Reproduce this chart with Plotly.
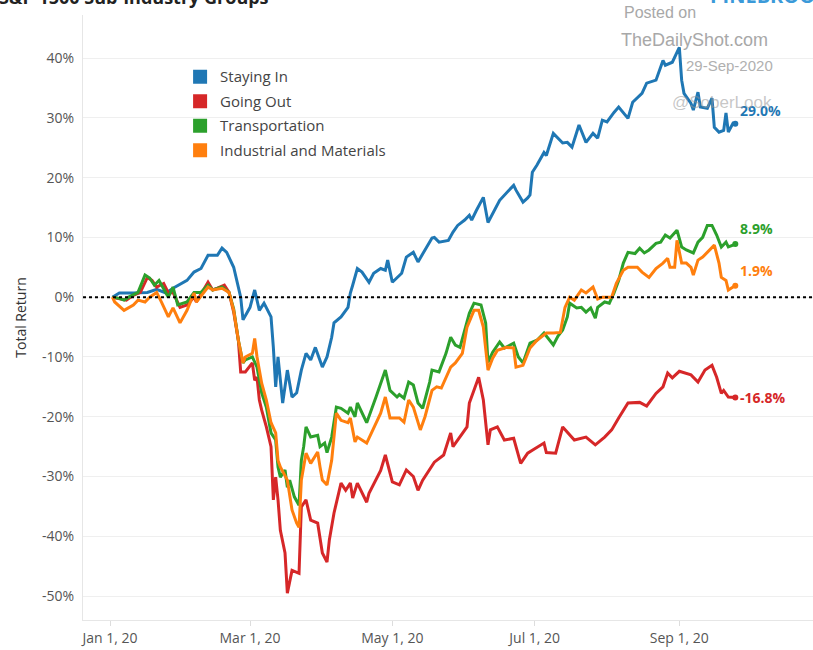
import plotly.graph_objects as go

YEAR = "2020"

# ---- data (total return, %) ----
staying_dates = ["01-02","01-05","01-11","01-17","01-21","01-25","01-28","02-03","02-06","02-09",
    "02-12","02-16","02-18","02-20","02-23","02-26","02-27","03-01","03-03","03-05",
    "03-07","03-10","03-11","03-12","03-13","03-14","03-15","03-17","03-19","03-21",
    "03-23","03-25","03-27","03-29","03-31","04-01","04-03","04-05","04-06","04-09",
    "04-12","04-13","04-14","04-16","04-18","04-21","04-23","04-26","04-28","04-29",
    "05-01","05-05","05-07","05-10","05-12","05-15","05-18","05-19","05-21","05-25",
    "05-27","05-29","06-01","06-03","06-04","06-06","06-09","06-11","06-13","06-16",
    "06-20","06-22","06-23","06-26","06-28","06-29","06-30","07-02","07-05","07-06",
    "07-09","07-11","07-13","07-15","07-17","07-20","07-23","07-26","07-28","07-30",
    "08-01","08-04","08-06","08-10","08-12","08-16","08-18","08-22","08-25","08-26",
    "08-29","09-01","09-02","09-03","09-06","09-07","09-09","09-10","09-13","09-15",
    "09-16","09-18","09-20","09-21","09-22","09-24","09-25"]
staying_vals = [0.0,0.7,0.7,0.8,1.3,0.7,1.5,2.8,4.2,4.8,
    7.0,7.0,8.2,7.5,5.0,0.0,-3.8,-1.7,1.2,-2.2,
    -1.0,-3.3,-8.4,-15.0,-10.0,-13.9,-17.7,-12.2,-16.7,-16.0,
    -12.2,-9.4,-10.5,-8.4,-10.5,-11.7,-10.0,-6.7,-4.3,-3.3,
    -1.7,0.7,2.0,4.8,4.2,2.5,4.0,4.8,4.5,6.2,
    2.5,4.0,6.7,7.5,5.9,7.9,9.9,10.0,9.2,9.5,
    10.9,12.0,12.9,13.7,12.9,14.5,16.7,12.5,14.0,16.2,
    17.9,18.7,17.9,15.9,16.6,17.1,20.9,22.1,24.2,23.7,
    27.4,26.6,25.8,25.9,25.1,28.8,25.9,27.4,26.6,29.6,
    29.3,30.9,31.8,29.9,32.6,34.1,35.8,36.3,39.6,38.8,
    39.3,41.8,36.3,34.1,32.4,31.3,34.3,31.8,31.6,33.3,
    28.4,27.6,27.9,30.8,27.6,29.1,29.0]

going_dates = ["01-02","01-05","01-08","01-11","01-14","01-17","01-19","01-21","01-24","01-26",
    "01-28","01-31","02-03","02-06","02-07","02-12","02-14","02-16","02-19","02-21",
    "02-23","02-25","02-26","02-28","03-02","03-03","03-04","03-05","03-06","03-08",
    "03-10","03-11","03-12","03-13","03-14","03-16","03-17","03-19","03-21","03-22",
    "03-23","03-25","03-27","03-30","04-01","04-03","04-04","04-06","04-09","04-11",
    "04-13","04-14","04-16","04-20","04-21","04-26","04-28","05-01","05-04","05-07",
    "05-10","05-12","05-14","05-17","05-19","05-23","05-26","05-27","05-30","06-02",
    "06-03","06-05","06-07","06-09","06-11","06-12","06-15","06-18","06-22","06-25",
    "06-28","06-30","07-05","07-06","07-10","07-13","07-15","07-18","07-23","07-27",
    "07-31","08-03","08-06","08-10","08-15","08-18","08-22","08-25","08-27","08-29",
    "09-01","09-06","09-09","09-12","09-15","09-17","09-19","09-20","09-22","09-24","09-25"]
going_vals = [0.0,-0.2,-0.5,0.3,0.8,3.3,2.8,1.7,2.3,0.7,
    0.8,-1.7,-1.3,0.0,-0.8,2.5,1.2,1.5,2.0,0.8,
    -2.5,-7.2,-12.5,-12.5,-11.0,-13.9,-13.4,-17.2,-18.9,-21.7,
    -25.0,-33.9,-30.1,-33.9,-39.0,-42.8,-49.5,-45.7,-46.0,-46.2,
    -35.1,-33.9,-37.3,-37.8,-42.8,-44.3,-40.6,-36.1,-31.1,-32.3,
    -31.1,-33.6,-31.1,-34.3,-32.8,-29.0,-26.4,-30.9,-31.4,-28.9,
    -30.0,-32.3,-30.6,-28.9,-27.6,-26.4,-22.7,-25.0,-23.4,-21.7,
    -17.7,-15.6,-13.4,-17.2,-24.7,-22.2,-21.7,-23.9,-23.6,-27.8,
    -26.1,-25.6,-24.4,-26.0,-26.1,-21.7,-22.6,-23.9,-23.4,-24.7,
    -23.4,-22.2,-20.2,-17.7,-17.6,-18.2,-16.1,-15.0,-12.7,-13.5,
    -12.4,-13.0,-14.2,-12.2,-11.4,-13.4,-16.1,-15.6,-16.7,-16.8,-16.8]

transport_dates = ["01-02","01-05","01-07","01-09","01-13","01-16","01-18","01-20","01-22","01-24",
    "01-26","01-28","01-30","02-03","02-06","02-09","02-12","02-14","02-18","02-21",
    "02-23","02-25","02-27","02-28","03-02","03-04","03-06","03-08","03-10","03-12",
    "03-13","03-14","03-16","03-17","03-18","03-20","03-22","03-23","03-24","03-25",
    "03-27","03-30","03-31","04-02","04-03","04-05","04-07","04-09","04-12","04-13",
    "04-15","04-16","04-20","04-24","04-26","04-28","04-30","05-03","05-04","05-06",
    "05-08","05-10","05-12","05-14","05-17","05-18","05-21","05-24","05-26","05-28",
    "05-30","06-02","06-03","06-05","06-08","06-10","06-11","06-13","06-16","06-18",
    "06-22","06-24","06-26","06-29","07-02","07-05","07-09","07-11","07-13","07-15",
    "07-16","07-19","07-21","07-23","07-25","07-27","07-28","07-31","08-02","08-04",
    "08-06","08-08","08-10","08-13","08-15","08-17","08-19","08-22","08-24","08-26",
    "08-28","08-31","09-02","09-04","09-07","09-09","09-11","09-13","09-15","09-17",
    "09-19","09-21","09-22","09-24","09-25"]
transport_vals = [0.0,-0.2,-0.5,0.0,0.8,3.7,3.2,2.0,2.8,1.5,
    0.0,1.7,-1.3,-0.8,0.8,0.8,2.0,1.2,1.7,0.8,
    -2.0,-7.2,-11.0,-10.5,-10.0,-11.7,-16.0,-18.4,-22.7,-23.9,
    -28.4,-30.1,-28.9,-31.8,-30.6,-33.4,-34.8,-27.3,-25.0,-21.7,
    -23.4,-23.1,-25.0,-24.4,-26.0,-23.4,-18.4,-18.6,-19.4,-18.4,
    -20.0,-17.7,-21.0,-16.7,-14.4,-12.2,-15.6,-16.7,-16.3,-16.9,
    -14.2,-14.7,-17.7,-18.6,-14.2,-12.2,-12.5,-9.4,-6.7,-8.0,
    -8.4,-4.2,-2.7,-1.0,-1.3,-4.3,-10.9,-9.2,-7.5,-8.5,
    -7.7,-10.0,-11.0,-7.7,-7.2,-6.0,-8.0,-6.5,-5.5,-3.3,
    -1.0,-1.8,-1.7,-2.5,-1.8,-3.5,-1.7,-0.8,-1.0,0.7,
    2.8,5.7,7.5,7.3,8.2,7.4,7.9,9.0,9.2,10.4,
    9.9,11.2,8.4,7.9,7.4,9.2,10.0,12.0,12.0,10.4,
    8.4,9.2,8.4,8.7,8.9]

industrial_dates = ["01-02","01-03","01-07","01-09","01-11","01-13","01-16","01-18","01-21","01-23",
    "01-26","01-28","01-31","02-03","02-06","02-07","02-12","02-14","02-18","02-21",
    "02-23","02-25","02-27","02-28","03-02","03-03","03-04","03-06","03-08","03-10",
    "03-12","03-13","03-14","03-17","03-18","03-19","03-21","03-22","03-23","03-25",
    "03-27","03-30","03-31","04-01","04-03","04-05","04-07","04-09","04-12","04-13",
    "04-15","04-16","04-20","04-24","04-26","04-28","04-30","05-04","05-06","05-08",
    "05-10","05-13","05-15","05-18","05-20","05-22","05-26","05-28","05-31","06-02",
    "06-05","06-07","06-09","06-11","06-13","06-15","06-19","06-22","06-23","06-26",
    "06-29","07-02","07-06","07-09","07-12","07-14","07-16","07-18","07-21","07-23",
    "07-26","07-28","07-30","08-03","08-05","08-08","08-10","08-14","08-16","08-19",
    "08-22","08-25","08-27","08-28","08-30","08-31","09-02","09-04","09-06","09-07",
    "09-09","09-11","09-13","09-16","09-18","09-19","09-21","09-22","09-24","09-25"]
industrial_vals = [0.0,-0.8,-2.2,-1.7,-1.3,-0.5,-0.8,0.0,0.8,-0.8,
    -3.3,-1.8,-4.3,-2.2,0.7,-0.8,1.7,1.2,1.5,0.8,
    -2.2,-7.2,-11.0,-10.0,-9.4,-6.9,-10.0,-14.4,-17.2,-21.0,
    -22.7,-27.3,-28.4,-30.6,-32.8,-35.6,-37.8,-38.5,-30.6,-26.1,
    -27.8,-25.9,-28.4,-30.6,-31.4,-27.3,-19.4,-20.6,-21.0,-20.2,
    -24.2,-23.4,-24.4,-21.0,-19.4,-16.7,-20.2,-20.2,-20.9,-17.2,
    -18.4,-22.2,-20.0,-15.6,-15.0,-15.2,-11.7,-11.0,-9.4,-5.0,
    -2.2,-2.2,-5.0,-12.2,-10.2,-8.9,-8.4,-8.5,-11.7,-11.4,
    -8.5,-7.2,-6.0,-6.0,-5.9,-1.7,0.0,-0.5,1.2,0.7,
    1.7,-0.3,0.0,0.0,2.3,4.5,5.0,5.0,4.2,3.3,
    4.8,5.7,6.5,5.0,5.0,9.5,5.7,5.7,5.0,3.7,
    6.2,6.7,7.5,8.7,5.7,3.3,2.8,1.2,1.7,1.9]

series_names = ["Staying In", "Going Out", "Transportation", "Industrial and Materials"]
series_colors = ["#1f77b4", "#d62728", "#2ca02c", "#ff7f0e"]
end_label_shift = [13, 0, 15, 15]

x_tick_dates = ["01-01", "03-01", "05-01", "07-01", "09-01"]
y_tick_vals = [-50, -40, -30, -20, -10, 0, 10, 20, 30, 40]
y_tick_text = ["-50%", "-40%", "-30%", "-20%", "-10%", "0%", "10%", "20%", "30%", "40%"]
baseline = 0

FONT = "Open Sans"

all_dates = [staying_dates, going_dates, transport_dates, industrial_dates]
all_vals = [staying_vals, going_vals, transport_vals, industrial_vals]

fig = go.Figure()

for name, color, d, v in zip(series_names, series_colors, all_dates, all_vals):
    xs = [f"{YEAR}-{s}" for s in d]
    fig.add_trace(go.Scatter(x=xs, y=v, mode="lines", name=name,
                             line=dict(color=color, width=3), showlegend=False,
                             hoverinfo="skip"))
    fig.add_trace(go.Scatter(x=[xs[-1]], y=[v[-1]], mode="markers",
                             marker=dict(color=color, size=6), showlegend=False,
                             hoverinfo="skip"))

# legend entries as squares
for i, (name, color) in enumerate(zip(series_names, series_colors)):
    fig.add_trace(go.Scatter(x=[None], y=[None], mode="markers", name=name,
                             legendgroup=f"g{i}",
                             marker=dict(symbol="square", size=14, color=color)))

# end labels
for name, color, d, v, sh in zip(series_names, series_colors, all_dates, all_vals, end_label_shift):
    fig.add_annotation(x=f"{YEAR}-{d[-1]}", y=v[-1], text=f"<b>{v[-1]:.1f}%</b>",
                       showarrow=False, xanchor="left", yanchor="middle",
                       xshift=3, yshift=sh,
                       font=dict(family=FONT, size=14, color=color))

# zero reference line (dotted)
fig.add_shape(type="line", xref="paper", x0=0, x1=1, yref="y", y0=baseline, y1=baseline,
              line=dict(color="black", width=2, dash="dot"), layer="above")

# watermark / header texts
fig.add_annotation(xref="paper", yref="paper", x=-0.118, y=1.03, xanchor="left", yanchor="middle",
                   text="<b>S&P 1500 Sub-Industry Groups</b>", showarrow=False,
                   font=dict(family=FONT, size=18, color="#222"))
fig.add_annotation(xref="paper", yref="paper", x=0.856, y=1.032, xanchor="left", yanchor="middle",
                   text="<b>PINEBROOK</b>", showarrow=False,
                   font=dict(family=FONT, size=20, color="#3b9ad9"))
fig.add_annotation(xref="paper", yref="paper", x=0.79, y=1.004, xanchor="center", yanchor="middle",
                   text="Posted on", showarrow=False,
                   font=dict(family="Liberation Sans", size=16, color="#a8a8a8"))
fig.add_annotation(xref="paper", yref="paper", x=0.838, y=0.959, xanchor="center", yanchor="middle",
                   text="TheDailyShot.com", showarrow=False,
                   font=dict(family="Liberation Sans", size=18, color="#a8a8a8"))
fig.add_annotation(xref="paper", yref="paper", x=0.885, y=0.917, xanchor="center", yanchor="middle",
                   text="29-Sep-2020", showarrow=False,
                   font=dict(family="Liberation Sans", size=15, color="#b0b0b0"))
fig.add_annotation(xref="paper", yref="paper", x=0.876, y=0.855, xanchor="center", yanchor="middle",
                   text="@SoberLook", showarrow=False,
                   font=dict(family="Liberation Sans", size=17, color="rgba(150,150,150,0.55)"))

fig.update_layout(
    width=813, height=650,
    margin=dict(l=83, r=0, t=15, b=30),
    paper_bgcolor="white", plot_bgcolor="white",
    font=dict(family=FONT, size=14, color="#555"),
    showlegend=True,
    legend=dict(x=0.133, y=0.925, xanchor="left", yanchor="top",
                bgcolor="rgba(255,255,255,0)", font=dict(family=FONT, size=15, color="#444"),
                tracegroupgap=2, itemwidth=30),
    xaxis=dict(type="date", range=["2019-12-20 10:00", "2020-10-28 07:00"],
               tickvals=[f"{YEAR}-{s}" for s in x_tick_dates], tickformat="%b %-d, %y",
               showgrid=False, zeroline=False, showline=True, linecolor="#e6e6e6",
               ticks="outside", ticklen=5, tickcolor="#dddddd",
               tickfont=dict(family=FONT, size=14, color="#555")),
    yaxis=dict(range=[-54.0, 47.2], tickvals=y_tick_vals, ticktext=y_tick_text,
               showgrid=True, gridcolor="#efefef", zeroline=False,
               showline=True, linecolor="#e6e6e6", ticks="", ticklabelstandoff=5,
               tickfont=dict(family=FONT, size=14, color="#555"),
               title=dict(text="Total Return", standoff=12,
                          font=dict(family=FONT, size=14, color="#333"))),
)

fig.write_html("out.html", config={"displayModeBar": False},
               post_script="document.body.style.margin='0';document.body.style.padding='0';")
